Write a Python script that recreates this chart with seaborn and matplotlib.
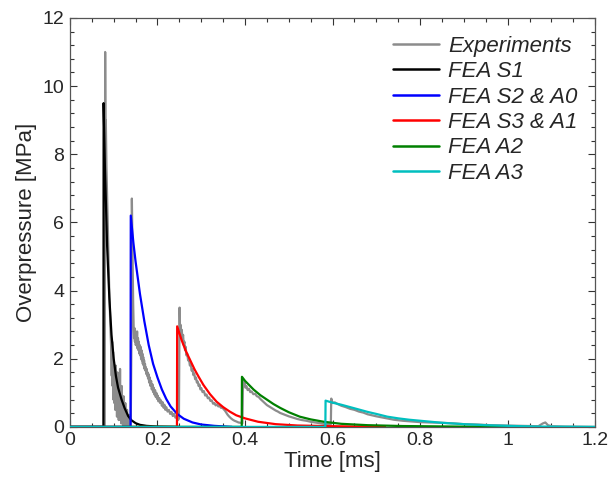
import numpy as np
import pandas as pd
import matplotlib
matplotlib.use("Agg")
import matplotlib.pyplot as plt
from matplotlib.ticker import MultipleLocator
import seaborn as sns

# ---------------- data ----------------
exp_t = [0.0, 0.0795, 0.0805, 0.0812, 0.082, 0.0835, 0.085, 0.0865, 0.088, 0.0895, 0.091,
         0.0925, 0.094, 0.0955, 0.0965, 0.0975, 0.0985, 0.0995, 0.1005, 0.1015, 0.1025,
         0.1035, 0.1045, 0.1055, 0.1065, 0.1075, 0.1085, 0.1095, 0.1105, 0.1115, 0.1125,
         0.1135, 0.1145, 0.1155, 0.1165, 0.1175, 0.1185, 0.1195, 0.1205, 0.1215, 0.1225,
         0.1235, 0.1245, 0.1255, 0.1265, 0.1275, 0.1285, 0.1295, 0.1305, 0.1315, 0.1325,
         0.1335, 0.1345, 0.1355, 0.1365, 0.1375, 0.139,
         0.1405, 0.1415, 0.1425, 0.1435, 0.1445, 0.1455, 0.1465, 0.1475, 0.1485, 0.1495,
         0.1505, 0.1515, 0.1525, 0.1535, 0.1545, 0.1555, 0.1565, 0.1575, 0.1585, 0.1595,
         0.1605, 0.1615, 0.1625, 0.1635, 0.1645, 0.1655, 0.1665, 0.1675, 0.1685, 0.1695,
         0.1705, 0.1715, 0.1725, 0.1735, 0.1745, 0.1755, 0.1765, 0.1775, 0.1785, 0.1795,
         0.181, 0.1825, 0.184, 0.1855, 0.187, 0.1885, 0.190, 0.1915, 0.193, 0.1945,
         0.196, 0.1975, 0.199, 0.2005, 0.202, 0.204, 0.206, 0.208, 0.210, 0.212,
         0.214, 0.216, 0.218, 0.220, 0.223, 0.226, 0.229, 0.232, 0.235, 0.238,
         0.241, 0.244, 0.247, 0.249,
         0.2495, 0.2505, 0.2515, 0.2525, 0.254, 0.2555, 0.257, 0.2585, 0.260, 0.2615,
         0.263, 0.2645, 0.266, 0.268, 0.270, 0.272, 0.274, 0.276, 0.278, 0.280,
         0.282, 0.284, 0.286, 0.288, 0.290, 0.292, 0.294, 0.296, 0.298, 0.300,
         0.303, 0.306, 0.309, 0.312, 0.315, 0.318, 0.321, 0.324, 0.327, 0.330,
         0.333, 0.336, 0.339, 0.342, 0.345, 0.348, 0.351, 0.354, 0.357, 0.360,
         0.364, 0.368, 0.372, 0.376, 0.380, 0.385, 0.390, 0.394,
         0.3945, 0.3955, 0.397, 0.399, 0.401, 0.403, 0.406, 0.409, 0.412, 0.415,
         0.419, 0.423, 0.427, 0.431, 0.435, 0.440, 0.445, 0.450, 0.455, 0.460,
         0.465, 0.470, 0.475, 0.480, 0.490, 0.500, 0.510, 0.520, 0.530, 0.540,
         0.550, 0.560, 0.570, 0.580, 0.590, 0.596,
         0.597, 0.600, 0.605, 0.610, 0.620, 0.630, 0.640, 0.650, 0.660, 0.670,
         0.680, 0.690, 0.700, 0.720, 0.740, 0.760, 0.780, 0.800, 0.820, 0.850,
         0.880, 0.900, 0.930, 0.960, 1.000, 1.040, 1.070, 1.080, 1.086, 1.092,
         1.100, 1.130, 1.200]
exp_p = [0.0, 0.0, 11.0, 8.5, 9.0, 7.6, 6.8, 5.9, 5.0, 4.2, 3.5,
         2.9, 2.4, 1.5, 2.5, 1.2, 2.2, 0.8, 1.9, 0.7, 1.7,
         0.5, 1.8, 0.6, 1.4, 0.3, 1.6, 0.4, 1.3, 0.2, 1.1,
         0.3, 1.7, 0.2, 0.9, 0.1, 1.2, 0.2, 0.8, 0.05, 0.9,
         0.1, 0.6, 0.0, 0.7, 0.1, 0.4, 0.0, 0.5, 0.05, 0.3,
         0.0, 0.35, 0.05, 0.2, 0.0, 0.15,
         2.5, 6.7, 5.5, 4.6, 3.6, 3.0, 2.6, 2.9, 2.5, 2.8,
         2.4, 2.7, 2.5, 2.8, 2.3, 2.6, 2.25, 2.5, 2.15, 2.4,
         2.1, 2.35, 2.0, 2.25, 1.95, 2.15, 1.85, 2.05, 1.8, 1.95,
         1.7, 1.85, 1.65, 1.75, 1.55, 1.7, 1.5, 1.6, 1.42, 1.55,
         1.3, 1.45, 1.2, 1.35, 1.1, 1.25, 1.02, 1.15, 0.95, 1.08,
         0.88, 1.0, 0.82, 0.92, 0.75, 0.85, 0.7, 0.78, 0.62, 0.72,
         0.56, 0.65, 0.5, 0.58, 0.45, 0.5, 0.38, 0.44, 0.32, 0.38,
         0.27, 0.3, 0.2, 0.24,
         1.5, 3.5, 2.8, 3.0, 2.7, 2.85, 2.55, 2.7, 2.4, 2.5,
         2.25, 2.35, 2.1, 2.15, 1.95, 2.0, 1.8, 1.85, 1.65, 1.7,
         1.52, 1.57, 1.4, 1.45, 1.3, 1.33, 1.2, 1.24, 1.1, 1.14,
         1.02, 1.05, 0.92, 0.95, 0.84, 0.86, 0.76, 0.78, 0.68, 0.7,
         0.63, 0.66, 0.6, 0.62, 0.56, 0.58, 0.52, 0.48, 0.42, 0.36,
         0.3, 0.25, 0.21, 0.18, 0.16, 0.13, 0.12, 0.1,
         0.6, 1.38, 1.2, 1.28, 1.15, 1.2, 1.08, 1.12, 1.02, 1.04,
         0.96, 0.97, 0.9, 0.88, 0.82, 0.76, 0.7, 0.64, 0.6, 0.56,
         0.52, 0.48, 0.45, 0.41, 0.36, 0.31, 0.27, 0.23, 0.2, 0.18,
         0.15, 0.13, 0.11, 0.09, 0.08, 0.08,
         0.83, 0.7, 0.72, 0.68, 0.62, 0.58, 0.53, 0.5, 0.45, 0.42,
         0.37, 0.34, 0.31, 0.26, 0.21, 0.18, 0.16, 0.14, 0.13, 0.12,
         0.1, 0.08, 0.07, 0.05, 0.04, 0.03, 0.02, 0.1, 0.13, 0.05,
         0.02, 0.01, 0.0]

s1_t = [0.0, 0.0765, 0.077, 0.080, 0.085, 0.090, 0.095, 0.100, 0.105, 0.110, 0.118,
        0.125, 0.133, 0.140, 0.150, 0.160, 0.175, 0.200, 0.250]
s1_p = [0.0, 0.0, 9.5, 7.6, 5.3, 3.8, 2.7, 2.0, 1.5, 1.15, 0.8,
        0.55, 0.32, 0.2, 0.11, 0.06, 0.03, 0.01, 0.0]

s2_t = [0.0, 0.1385, 0.139, 0.145, 0.150, 0.160, 0.170, 0.180, 0.190, 0.200, 0.210,
        0.220, 0.230, 0.245, 0.260, 0.280, 0.300, 0.330, 0.370]
s2_p = [0.0, 0.0, 6.2, 5.4, 4.85, 3.9, 3.1, 2.4, 1.85, 1.45, 1.1,
        0.82, 0.6, 0.38, 0.24, 0.13, 0.07, 0.03, 0.0]

r_t = [0.0, 0.2445, 0.245, 0.255, 0.265, 0.275, 0.285, 0.295, 0.305, 0.320, 0.335,
       0.350, 0.365, 0.380, 0.400, 0.430, 0.470, 0.520, 0.600, 0.720]
r_p = [0.0, 0.0, 2.95, 2.55, 2.22, 1.95, 1.68, 1.45, 1.23, 0.96, 0.74,
       0.58, 0.45, 0.34, 0.25, 0.15, 0.08, 0.04, 0.02, 0.0]

a2_t = [0.0, 0.3925, 0.393, 0.400, 0.410, 0.420, 0.435, 0.450, 0.465, 0.480, 0.500,
        0.525, 0.550, 0.580, 0.620, 0.680, 0.760, 0.880, 1.000]
a2_p = [0.0, 0.0, 1.47, 1.35, 1.22, 1.09, 0.93, 0.8, 0.67, 0.56, 0.43,
        0.3, 0.22, 0.15, 0.09, 0.05, 0.025, 0.01, 0.0]

a3_t = [0.0, 0.5835, 0.584, 0.600, 0.620, 0.640, 0.660, 0.680, 0.700, 0.725, 0.750,
        0.775, 0.800, 0.850, 0.900, 0.950, 1.000, 1.060, 1.200]
a3_p = [0.0, 0.0, 0.77, 0.71, 0.65, 0.58, 0.51, 0.44, 0.38, 0.3, 0.25,
        0.21, 0.18, 0.12, 0.08, 0.05, 0.03, 0.01, 0.0]

series = [
    ("Experiments", exp_t, exp_p, "#8c8c8c"),
    ("FEA S1", s1_t, s1_p, "black"),
    ("FEA S2 & A0", s2_t, s2_p, "#0000ff"),
    ("FEA S3 & A1", r_t, r_p, "#ff0000"),
    ("FEA A2", a2_t, a2_p, "#008000"),
    ("FEA A3", a3_t, a3_p, "#00bfbf"),
]

# ---------------- plot ----------------
sns.set_style("ticks")
plt.rcParams["font.family"] = ["Liberation Sans", "DejaVu Sans"]

fig = plt.figure(figsize=(6.08, 4.84), dpi=100)
ax = fig.add_axes([0.115, 0.118, 0.864, 0.845])

for name, t, p, c in series:
    df = pd.DataFrame({"t": t, "p": p})
    sns.lineplot(data=df, x="t", y="p", ax=ax, color=c, label=name,
                 sort=False, estimator=None, linewidth=1.6, zorder=3)

ax.set_xlim(0, 1.2)
ax.set_ylim(0, 12)
ax.xaxis.set_major_locator(MultipleLocator(0.2))
ax.xaxis.set_minor_locator(MultipleLocator(0.05))
ax.yaxis.set_major_locator(MultipleLocator(2))
ax.yaxis.set_minor_locator(MultipleLocator(0.4))
ax.set_xticks([0, 0.2, 0.4, 0.6, 0.8, 1.0, 1.2])
ax.set_xticklabels(["0", "0.2", "0.4", "0.6", "0.8", "1", "1.2"])
ax.tick_params(which="both", direction="in", top=True, right=True,
               labelsize=14, color="#333333", pad=4)
ax.tick_params(which="major", length=5, width=0.8)
ax.tick_params(which="minor", length=3, width=0.8)
for s in ax.spines.values():
    s.set_color("#555555")
    s.set_linewidth(0.9)

ax.set_xlabel("Time [ms]", fontsize=16, labelpad=1)
ax.set_ylabel("Overpressure [MPa]", fontsize=16, labelpad=4)

leg = ax.legend(loc="upper right", frameon=False,
                prop={"style": "italic", "size": 16},
                handlelength=2.1, handletextpad=0.4, labelspacing=0.2,
                borderaxespad=0.4)
for line in leg.get_lines():
    line.set_linewidth(1.8)

fig.savefig("out.png", dpi=100)
